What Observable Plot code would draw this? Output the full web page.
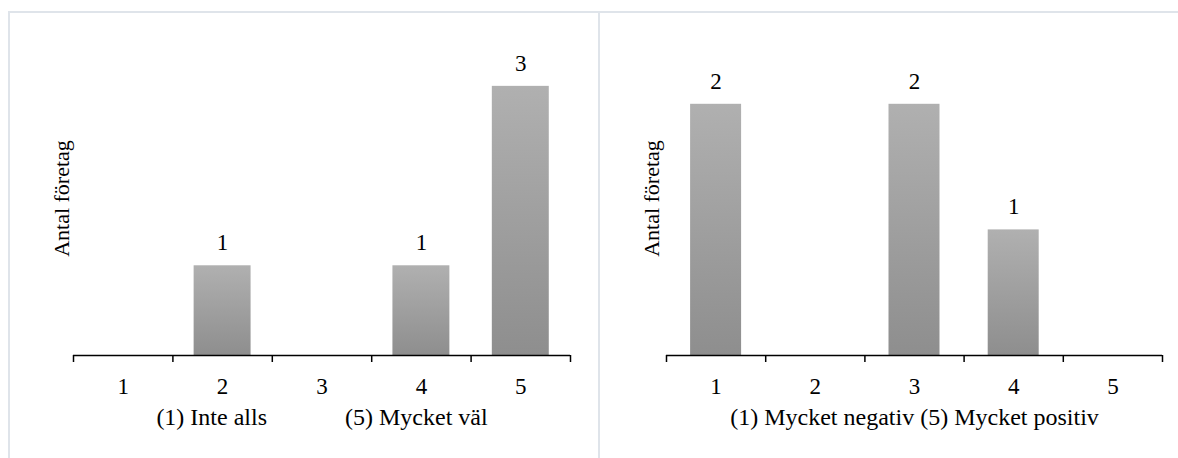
<!DOCTYPE html>
<html>
<head>
<meta charset="utf-8">
<script src="https://cdn.jsdelivr.net/npm/d3@7"></script>
<script src="https://cdn.jsdelivr.net/npm/@observablehq/plot@0.6"></script>
<style>
  body { margin: 0; background: #fff; font-family: "Liberation Serif", "Times New Roman", serif; }
  #wrap { position: relative; width: 1178px; height: 458px; overflow: hidden; }
  .panel { position: absolute; top: 11px; height: 480px; border: 2px solid #dfe4ea; box-sizing: border-box; background: #fff; }
  .chart { position: absolute; top: 0; }
  svg text { white-space: pre; }
</style>
</head>
<body>
<div id="wrap">
  <div class="panel" style="left:8px;width:592px"></div>
  <div class="panel" style="left:598px;width:600px"></div>
  <div id="fit" class="chart" style="left:0px"></div>
  <div id="attitude" class="chart" style="left:600px"></div>
</div>
<script>
// Response scale (1–5) and number of companies per answer
const scale = [1, 2, 3, 4, 5];
const fitCounts = [0, 1, 0, 1, 3];
const attitudeCounts = [2, 0, 2, 1, 0];

const yTitle = "Antal företag";
const fitTitle = "(1) Inte alls             (5) Mycket väl";
const attitudeTitle = "(1) Mycket negativ (5) Mycket positiv";

function barChart({counts, title, width, marginLeft, marginRight, yMax, barFrac, gradId, yTitleDx}) {
  const rows = scale.map((k, i) => ({k, v: counts[i]}));
  const half = barFrac / 2;
  const boundaries = d3.range(0.5, scale.length + 1, 1);
  const svg = Plot.plot({
    width,
    height: 458,
    marginLeft,
    marginRight,
    marginTop: 41,
    marginBottom: 103,
    style: {fontFamily: "'Liberation Serif', 'Times New Roman', serif", color: "#000", background: "transparent"},
    x: {type: "linear", domain: [0.5, scale.length + 0.5]},
    y: {domain: [0, yMax], axis: null},
    marks: [
      Plot.rectY(rows.filter(d => d.v > 0), {
        x1: d => d.k - half, x2: d => d.k + half, y1: 0, y2: "v",
        fill: `url(#${gradId})`
      }),
      Plot.text(rows.filter(d => d.v > 0), {
        x: "k", y: "v", text: d => String(d.v), dy: -23, fontSize: 23, fill: "#000"
      }),
      Plot.ruleY([0], {stroke: "#000", strokeWidth: 1.5}),
      Plot.axisX({ticks: boundaries, tickSize: 7, tickFormat: () => "", stroke: "#000", strokeWidth: 1.5, label: null}),
      Plot.axisX({ticks: scale, tickSize: 0, tickPadding: 22, fontSize: 23, tickFormat: d => String(d), label: null}),
      Plot.text([title], {frameAnchor: "bottom", dy: 69, fontSize: 24, fill: "#000"}),
      Plot.text([yTitle], {frameAnchor: "left", textAnchor: "middle", rotate: -90, dx: yTitleDx, dy: 0, fontSize: 22, fill: "#000"})
    ]
  });
  // vertical grey gradient applied to each bar
  const defs = d3.select(svg).insert("defs", ":first-child");
  const g = defs.append("linearGradient").attr("id", gradId)
    .attr("x1", 0).attr("y1", 0).attr("x2", 0).attr("y2", 1);
  g.append("stop").attr("offset", "0%").attr("stop-color", "#b0b0b0");
  g.append("stop").attr("offset", "100%").attr("stop-color", "#8e8e8e");
  return svg;
}

document.getElementById("fit").append(barChart({
  counts: fitCounts, title: fitTitle, width: 600,
  marginLeft: 73, marginRight: 30, yMax: 3.5, barFrac: 0.573, gradId: "gradFit", yTitleDx: -12
}));
document.getElementById("attitude").append(barChart({
  counts: attitudeCounts, title: attitudeTitle, width: 578,
  marginLeft: 66, marginRight: 16, yMax: 2.5, barFrac: 0.514, gradId: "gradAttitude", yTitleDx: -15
}));
</script>
</body>
</html>
